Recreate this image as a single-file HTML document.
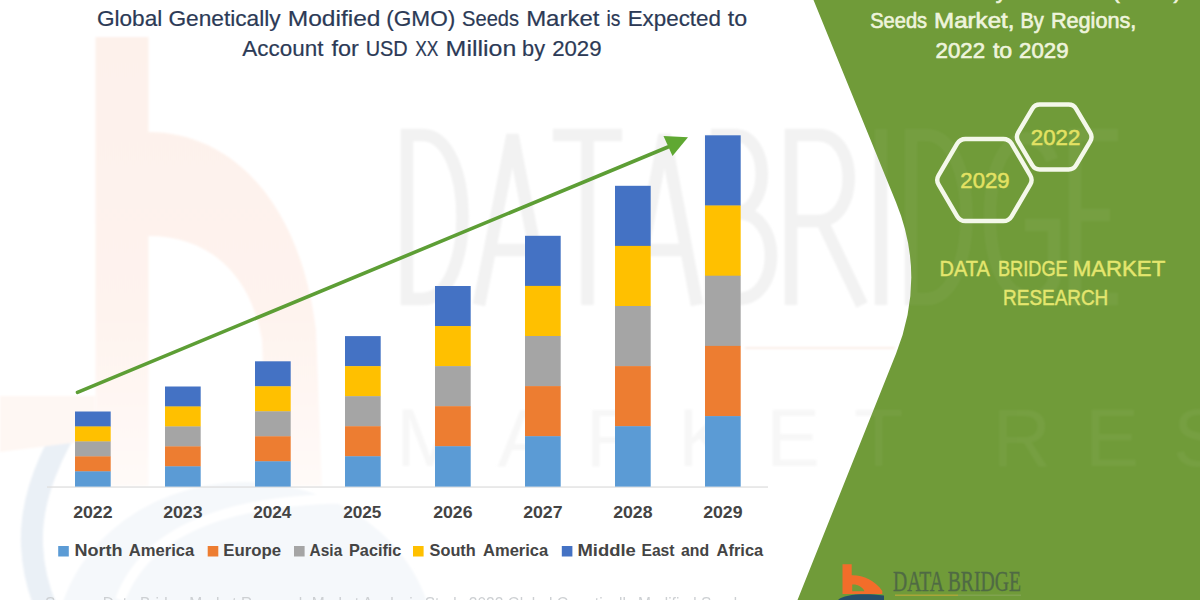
<!DOCTYPE html>
<html><head><meta charset="utf-8"><title>Global Genetically Modified (GMO) Seeds Market</title>
<style>
html,body{margin:0;padding:0;background:#fff;}
body{width:1200px;height:600px;overflow:hidden;font-family:"Liberation Sans",sans-serif;}
svg{display:block;position:absolute;left:0;top:0;}
text{font-family:"Liberation Sans",sans-serif;}
.serif{font-family:"Liberation Serif",serif;}
</style></head><body>
<svg width="1200" height="600" viewBox="0 0 1200 600">
<defs>
<filter id="soft" x="-5%" y="-5%" width="110%" height="110%"><feGaussianBlur stdDeviation="0.6"/></filter>
<filter id="soft2" x="-5%" y="-5%" width="110%" height="110%"><feGaussianBlur stdDeviation="1.2"/></filter>
<linearGradient id="bgrad" x1="0" y1="37" x2="0" y2="486" gradientUnits="userSpaceOnUse"><stop offset="0" stop-color="#fdf1eb"/><stop offset="0.6" stop-color="#fef3ee"/><stop offset="1" stop-color="#fffaf8"/></linearGradient>
<g id="wmD" fill="none" stroke-width="12.5" stroke-linejoin="miter">
<path d="M407 135 H422 C476 135 476 299 422 299 H407 Z"/>
<path d="M479 305 L512.5 135 L546 305 M490 250 H535"/>
<path d="M553 135 H622 M587.5 135 V305"/>
<path d="M632 305 L664.5 135 L697 305 M643 250 H686"/>
<path d="M711 135 V299 H738 C782 299 782 213 738 213 H711 M711 135 H734 C771 135 771 213 734 213"/>
<path d="M791 305 V135 H818 C859 135 859 221 818 221 H791 M822 221 L862 305"/>
<path d="M881 129 V305"/>
<path d="M911 135 H926 C980 135 980 299 926 299 H911 Z"/>
<path d="M1052 160 C1040 125 990 125 990 217 C990 310 1045 310 1054 280 V225 H1025"/>
<path d="M1118 135 H1075 V299 H1118 M1075 215 H1110"/>
</g>
<clipPath id="pclip"><path d="M813.5 0 L896 202.2 Q926.6 277.2 896 353.75 L797.5 600 L1200 600 L1200 0 Z"/></clipPath>
</defs>
<rect width="1200" height="600" fill="#ffffff"/>
<!-- watermark -->
<g id="wm" filter="url(#soft2)">
<ellipse cx="245" cy="650" rx="190" ry="168" fill="#f5f8fb"/>
<path d="M84 402 C50 450 30 500 32 545 C33 570 38 590 48 612" fill="none" stroke="#eaf0f6" stroke-width="22"/>
<path d="M120 600 C150 520 250 490 420 500" fill="none" stroke="#ffffff" stroke-width="10"/>
<path d="M95.5 37 H148.5 V132 C230 132 300 200 316 330 L322 486 H268 L262 340 C250 270 205 236 148.5 236 V486 H95.5 Z" fill="url(#bgrad)"/>
<path d="M0 396 L95 396 L95 440 L0 452 Z" fill="#fef7f3"/>
</g>
<g id="wmtext" fill="#f5f5f5" filter="url(#soft2)">
<use href="#wmD" stroke="#f2f2f2"/>
<text x="396" y="466" font-size="81" letter-spacing="34" fill="#f7f7f7">MARKET RESEARCH</text>
<rect x="745" y="347" width="150" height="2" fill="#fbeee8"/>
</g>
<rect x="47" y="486.4" width="721" height="1.3" fill="#dedede"/>
<g id="bars">
<rect x="75" y="411.50" width="35.7" height="15.26" fill="#4472c4"/>
<rect x="75" y="426.46" width="35.7" height="15.26" fill="#ffc000"/>
<rect x="75" y="441.42" width="35.7" height="15.26" fill="#a5a5a5"/>
<rect x="75" y="456.38" width="35.7" height="15.26" fill="#ed7d31"/>
<rect x="75" y="471.34" width="35.7" height="15.26" fill="#5b9bd5"/>
<rect x="165" y="386.50" width="35.7" height="20.26" fill="#4472c4"/>
<rect x="165" y="406.46" width="35.7" height="20.26" fill="#ffc000"/>
<rect x="165" y="426.42" width="35.7" height="20.26" fill="#a5a5a5"/>
<rect x="165" y="446.38" width="35.7" height="20.26" fill="#ed7d31"/>
<rect x="165" y="466.34" width="35.7" height="20.26" fill="#5b9bd5"/>
<rect x="255" y="361.30" width="35.7" height="25.30" fill="#4472c4"/>
<rect x="255" y="386.30" width="35.7" height="25.30" fill="#ffc000"/>
<rect x="255" y="411.30" width="35.7" height="25.30" fill="#a5a5a5"/>
<rect x="255" y="436.30" width="35.7" height="25.30" fill="#ed7d31"/>
<rect x="255" y="461.30" width="35.7" height="25.30" fill="#5b9bd5"/>
<rect x="345" y="336.10" width="35.7" height="30.34" fill="#4472c4"/>
<rect x="345" y="366.14" width="35.7" height="30.34" fill="#ffc000"/>
<rect x="345" y="396.18" width="35.7" height="30.34" fill="#a5a5a5"/>
<rect x="345" y="426.22" width="35.7" height="30.34" fill="#ed7d31"/>
<rect x="345" y="456.26" width="35.7" height="30.34" fill="#5b9bd5"/>
<rect x="435" y="286.00" width="35.7" height="40.36" fill="#4472c4"/>
<rect x="435" y="326.06" width="35.7" height="40.36" fill="#ffc000"/>
<rect x="435" y="366.12" width="35.7" height="40.36" fill="#a5a5a5"/>
<rect x="435" y="406.18" width="35.7" height="40.36" fill="#ed7d31"/>
<rect x="435" y="446.24" width="35.7" height="40.36" fill="#5b9bd5"/>
<rect x="525" y="235.80" width="35.7" height="50.40" fill="#4472c4"/>
<rect x="525" y="285.90" width="35.7" height="50.40" fill="#ffc000"/>
<rect x="525" y="336.00" width="35.7" height="50.40" fill="#a5a5a5"/>
<rect x="525" y="386.10" width="35.7" height="50.40" fill="#ed7d31"/>
<rect x="525" y="436.20" width="35.7" height="50.40" fill="#5b9bd5"/>
<rect x="615" y="185.80" width="35.7" height="60.40" fill="#4472c4"/>
<rect x="615" y="245.90" width="35.7" height="60.40" fill="#ffc000"/>
<rect x="615" y="306.00" width="35.7" height="60.40" fill="#a5a5a5"/>
<rect x="615" y="366.10" width="35.7" height="60.40" fill="#ed7d31"/>
<rect x="615" y="426.20" width="35.7" height="60.40" fill="#5b9bd5"/>
<rect x="705" y="135.30" width="35.7" height="70.50" fill="#4472c4"/>
<rect x="705" y="205.50" width="35.7" height="70.50" fill="#ffc000"/>
<rect x="705" y="275.70" width="35.7" height="70.50" fill="#a5a5a5"/>
<rect x="705" y="345.90" width="35.7" height="70.50" fill="#ed7d31"/>
<rect x="705" y="416.10" width="35.7" height="70.50" fill="#5b9bd5"/>
</g>
<g id="years" font-size="17.1" font-weight="700" fill="#444444">
<text x="73.15" y="518.3" textLength="39.32" lengthAdjust="spacingAndGlyphs">2022</text>
<text x="163.15" y="518.3" textLength="39.32" lengthAdjust="spacingAndGlyphs">2023</text>
<text x="253.15" y="518.3" textLength="38.30" lengthAdjust="spacingAndGlyphs">2024</text>
<text x="343.15" y="518.3" textLength="38.30" lengthAdjust="spacingAndGlyphs">2025</text>
<text x="433.15" y="518.3" textLength="39.32" lengthAdjust="spacingAndGlyphs">2026</text>
<text x="523.15" y="518.3" textLength="39.32" lengthAdjust="spacingAndGlyphs">2027</text>
<text x="613.15" y="518.3" textLength="39.32" lengthAdjust="spacingAndGlyphs">2028</text>
<text x="703.15" y="518.3" textLength="39.32" lengthAdjust="spacingAndGlyphs">2029</text>
</g>
<g id="legend" font-size="16.6" font-weight="700" fill="#444444">
<rect x="58.2" y="546" width="10.6" height="10.5" fill="#5b9bd5"/>
<rect x="207.7" y="546" width="10.6" height="10.5" fill="#ed7d31"/>
<rect x="294" y="546" width="10.6" height="10.5" fill="#a5a5a5"/>
<rect x="413" y="546" width="10.6" height="10.5" fill="#ffc000"/>
<rect x="561.8" y="546" width="10.6" height="10.5" fill="#4472c4"/>
<text x="74.51" y="556.3" textLength="48.14" lengthAdjust="spacingAndGlyphs">North</text>
<text x="128.75" y="556.3" textLength="65.48" lengthAdjust="spacingAndGlyphs">America</text>
<text x="223.39" y="556.3" textLength="57.84" lengthAdjust="spacingAndGlyphs">Europe</text>
<text x="309.60" y="556.3" textLength="32.68" lengthAdjust="spacingAndGlyphs">Asia</text>
<text x="349.02" y="556.3" textLength="52.40" lengthAdjust="spacingAndGlyphs">Pacific</text>
<text x="429.60" y="556.3" textLength="46.13" lengthAdjust="spacingAndGlyphs">South</text>
<text x="483.00" y="556.3" textLength="65.23" lengthAdjust="spacingAndGlyphs">America</text>
<text x="577.49" y="556.3" textLength="58.36" lengthAdjust="spacingAndGlyphs">Middle</text>
<text x="641.46" y="556.3" textLength="33.10" lengthAdjust="spacingAndGlyphs">East</text>
<text x="681.00" y="556.3" textLength="28.13" lengthAdjust="spacingAndGlyphs">and</text>
<text x="716.60" y="556.3" textLength="46.64" lengthAdjust="spacingAndGlyphs">Africa</text>
</g>
<g id="arrow">
<line x1="77.5" y1="392.3" x2="668" y2="147" stroke="#5d9e35" stroke-width="3.6" stroke-linecap="round"/>
<polygon points="688,137.3 663.5,136 672.5,156" fill="#5fa832"/>
</g>
<g id="title" font-size="21.8" fill="#2c3a56" stroke="#2c3a56" stroke-width="0.2">
<text x="96.96" y="25.6" textLength="65.31" lengthAdjust="spacingAndGlyphs">Global</text>
<text x="168.44" y="25.6" textLength="112.22" lengthAdjust="spacingAndGlyphs">Genetically</text>
<text x="287.71" y="25.6" textLength="92.73" lengthAdjust="spacingAndGlyphs">Modified</text>
<text x="386.21" y="25.6" textLength="69.08" lengthAdjust="spacingAndGlyphs">(GMO)</text>
<text x="462.06" y="25.6" textLength="57.02" lengthAdjust="spacingAndGlyphs">Seeds</text>
<text x="526.15" y="25.6" textLength="73.30" lengthAdjust="spacingAndGlyphs">Market</text>
<text x="606.58" y="25.6" textLength="13.97" lengthAdjust="spacingAndGlyphs">is</text>
<text x="627.69" y="25.6" textLength="93.28" lengthAdjust="spacingAndGlyphs">Expected</text>
<text x="727.89" y="25.6" textLength="19.37" lengthAdjust="spacingAndGlyphs">to</text>
<text x="242.33" y="56.2" textLength="81.09" lengthAdjust="spacingAndGlyphs">Account</text>
<text x="331.42" y="56.2" textLength="27.41" lengthAdjust="spacingAndGlyphs">for</text>
<text x="365.68" y="56.2" textLength="42.10" lengthAdjust="spacingAndGlyphs">USD</text>
<text x="415.16" y="56.2" textLength="23.21" lengthAdjust="spacingAndGlyphs">XX</text>
<text x="445.64" y="56.2" textLength="70.67" lengthAdjust="spacingAndGlyphs">Million</text>
<text x="522.08" y="56.2" textLength="22.95" lengthAdjust="spacingAndGlyphs">by</text>
<text x="552.16" y="56.2" textLength="49.43" lengthAdjust="spacingAndGlyphs">2029</text>
</g>
<text x="45" y="608.6" font-size="16" fill="#cdd0d3" filter="url(#soft)" textLength="700" lengthAdjust="spacingAndGlyphs">Source: Data Bridge Market Research Market Analysis Study 2022 Global Genetically Modified Seeds</text>
<path id="panel" d="M813.5 0 L896 202.2 Q926.6 277.2 896 353.75 L797.5 600 L1200 600 L1200 0 Z" fill="#709b39"/>
<g fill="#ffffff" opacity="0.04" filter="url(#soft2)" clip-path="url(#pclip)">
<use href="#wmD" stroke="#ffffff"/>
<text x="396" y="466" font-size="81" letter-spacing="34">MARKET RESEARCH</text>
</g>
<g id="ptext" font-size="21.8" fill="#eef4dc" stroke="#eef4dc" stroke-width="0.65">
<text x="824.19" y="-1.6" textLength="65.04" lengthAdjust="spacingAndGlyphs">Global</text>
<text x="895.38" y="-1.6" textLength="111.76" lengthAdjust="spacingAndGlyphs">Genetically</text>
<text x="1014.18" y="-1.6" textLength="92.35" lengthAdjust="spacingAndGlyphs">Modified</text>
<text x="1112.29" y="-1.6" textLength="68.79" lengthAdjust="spacingAndGlyphs">(GMO)</text>
<text x="870.26" y="28" textLength="56.78" lengthAdjust="spacingAndGlyphs">Seeds</text>
<text x="934.08" y="28" textLength="80.35" lengthAdjust="spacingAndGlyphs">Market,</text>
<text x="1020.40" y="28" textLength="23.34" lengthAdjust="spacingAndGlyphs">By</text>
<text x="1050.89" y="28" textLength="85.50" lengthAdjust="spacingAndGlyphs">Regions,</text>
<text x="935.57" y="57.9" textLength="49.43" lengthAdjust="spacingAndGlyphs">2022</text>
<text x="992.92" y="57.9" textLength="19.29" lengthAdjust="spacingAndGlyphs">to</text>
<text x="1019.11" y="57.9" textLength="49.43" lengthAdjust="spacingAndGlyphs">2029</text>
</g>
<g id="hex" fill="none" stroke="#f4f8ea" stroke-width="4.4" stroke-linejoin="round">
<path d="M938.60 184.74 Q935.80 180.00 938.60 175.26 L957.20 143.74 Q960.00 139.00 965.50 139.00 L1003.30 139.00 Q1008.80 139.00 1011.60 143.74 L1030.20 175.26 Q1033.00 180.00 1030.20 184.74 L1011.60 216.26 Q1008.80 221.00 1003.30 221.00 L965.50 221.00 Q960.00 221.00 957.20 216.26 Z"/>
<path d="M1018.14 141.30 Q1015.60 137.00 1018.14 132.70 L1032.26 108.80 Q1034.80 104.50 1039.80 104.50 L1068.60 104.50 Q1073.60 104.50 1076.14 108.80 L1090.26 132.70 Q1092.80 137.00 1090.26 141.30 L1076.14 165.20 Q1073.60 169.50 1068.60 169.50 L1039.80 169.50 Q1034.80 169.50 1032.26 165.20 Z"/>
</g>
<g font-size="21.4" fill="#e3e263" stroke="#e3e263" stroke-width="0.5">
<text x="1030.86" y="145.2" textLength="49.37" lengthAdjust="spacingAndGlyphs">2022</text>
<text x="960.37" y="187.8" textLength="49.16" lengthAdjust="spacingAndGlyphs">2029</text>
</g>
<g font-size="21.4" fill="#e4e66e" stroke="#e4e66e" stroke-width="0.45">
<text x="939.47" y="275.5" textLength="50.25" lengthAdjust="spacingAndGlyphs">DATA</text>
<text x="997.90" y="275.5" textLength="69.83" lengthAdjust="spacingAndGlyphs">BRIDGE</text>
<text x="1072.71" y="275.5" textLength="92.56" lengthAdjust="spacingAndGlyphs">MARKET</text>
<text x="1003.12" y="304.9" textLength="105.17" lengthAdjust="spacingAndGlyphs">RESEARCH</text>
</g>
<g id="logo">
<path fill-rule="evenodd" d="M842.5 564.2 H851.7 V575.3 C863 575 875 580.5 882.3 591 L882.3 594 H842.5 Z M852.2 584.6 C857.5 584.2 862 586.5 864.5 591.2 H852.2 Z" fill="#f26d2c" filter="url(#soft)"/>
<path d="M838 600 C844 594.5 862 593 884 595.5 L884 600 Z" fill="#27506a" filter="url(#soft)"/>
<text class="serif" x="893" y="591" font-size="29" fill="#4f6a44" stroke="#4f6a44" stroke-width="0.35" textLength="128" lengthAdjust="spacingAndGlyphs">DATA BRIDGE</text>
<rect x="895" y="594.6" width="63" height="1.2" fill="#b9a83a"/>
<rect x="958" y="594.6" width="63" height="1.2" fill="#84a656"/>
</g>
</svg>
</body></html>
